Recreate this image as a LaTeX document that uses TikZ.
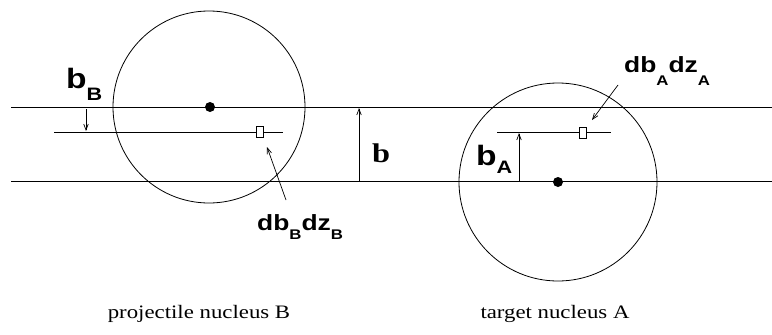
\documentclass[tikz,border=0pt]{standalone}
\usepackage{fontspec}
\setmainfont{Liberation Serif}
\newfontfamily\hel{Liberation Sans}
\newfontfamily\serbold{Liberation Serif Bold}
\usetikzlibrary{arrows.meta}
\tikzset{
  thinline/.style={line width=0.8pt},
  arr/.style={line width=0.7pt,-{Straight Barb[length=6pt,width=4.5pt]}},
  lbl/.style={inner sep=0pt,anchor=base west},
  dotn/.style={fill=black,circle,inner sep=0pt,minimum size=10pt},
  cell/.style={draw,line width=0.7pt,inner sep=0pt,minimum width=7pt,minimum height=11pt},
}
\newcommand{\xs}[1]{\scalebox{1.2}[1]{#1}}
\begin{document}
\begin{tikzpicture}[x=1pt,y=-1pt]
\useasboundingbox (0,0) rectangle (772,335);
% horizontal lines
\coordinate (tl) at (11,107); \coordinate (tr) at (772,107);
\coordinate (bl) at (11,181); \coordinate (br) at (772,181);
\draw[thinline] (tl) -- (tr);
\draw[thinline] (bl) -- (br);
% circles
\node[draw,circle,thinline,minimum size=192pt,inner sep=0pt] (cB) at (209,107) {};
\node[draw,circle,thinline,minimum size=198pt,inner sep=0pt] (cA) at (558,182) {};
\node[dotn] (dB) at (210,107) {};
\node[dotn] (dA) at (558,182) {};
% middle lines
\coordinate (mBl) at (54,132); \coordinate (mBr) at (283,132);
\coordinate (mAl) at (497,132); \coordinate (mAr) at (611,132);
\draw[thinline] (mBl) -- (mBr);
\draw[thinline] (mAl) -- (mAr);
\node[cell,fill=white] (boxB) at (259.5,131.5) {};
\node[cell,fill=white] (boxA) at (583,133) {};
% arrows
\coordinate (bBs) at (86,109); \coordinate (bBe) at (86,131);
\draw[arr] (bBs) -- (bBe);
\coordinate (bs) at (359,181); \coordinate (be) at (359,108);
\draw[arr] (bs) -- (be);
\coordinate (bAs) at (519,181); \coordinate (bAe) at (519,133);
\draw[arr] (bAs) -- (bAe);
\coordinate (dBs) at (286,200); \coordinate (dBe) at (267,147);
\draw[arr] (dBs) -- (dBe);
\coordinate (dAs) at (618,85); \coordinate (dAe) at (592,120);
\draw[arr] (dAs) -- (dAe);
% labels
\node[lbl] (lbB) at (66,88) {\xs{\hel\bfseries\fontsize{28}{28}\selectfont b\raisebox{-12pt}{\fontsize{18}{18}\selectfont B}}};
\node[lbl] (lbA) at (476,165) {\xs{\hel\bfseries\fontsize{28}{28}\selectfont b\raisebox{-8pt}{\fontsize{18}{18}\selectfont A}}};
\node[lbl] (lb) at (372,162) {\xs{\serbold\fontsize{27}{27}\selectfont b}};
\node[lbl] (ldA) at (624,72) {\xs{\hel\bfseries\fontsize{22}{22}\selectfont db\raisebox{-13pt}{\fontsize{14}{14}\selectfont A}dz\raisebox{-13pt}{\fontsize{14}{14}\selectfont A}}};
\node[lbl] (ldB) at (257,230) {\xs{\hel\bfseries\fontsize{22}{22}\selectfont db\raisebox{-9pt}{\fontsize{14}{14}\selectfont B}dz\raisebox{-9pt}{\fontsize{14}{14}\selectfont B}}};
\node[inner sep=0pt,anchor=base] (pB) at (199,318) {\xs{\fontsize{19}{19}\selectfont projectile nucleus B}};
\node[inner sep=0pt,anchor=base] (tA) at (555,318) {\xs{\fontsize{19}{19}\selectfont target nucleus A}};
\end{tikzpicture}
\end{document}
